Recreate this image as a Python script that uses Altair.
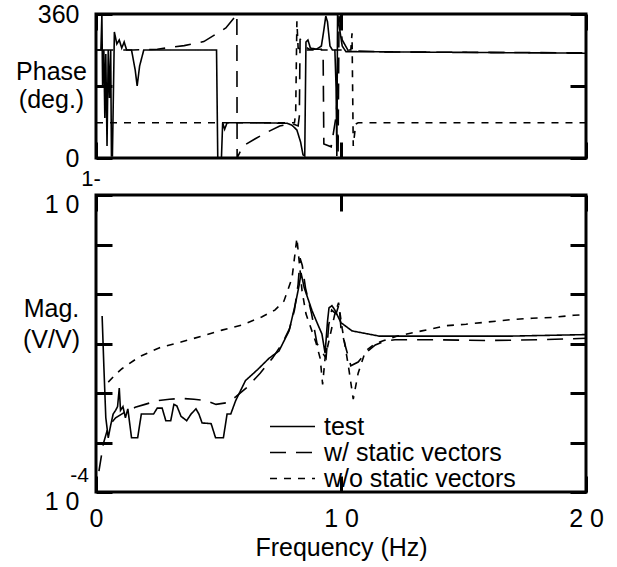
import altair as alt
import numpy as np
import pandas as pd

SERIES = ["test", "w/ static vectors", "w/o static vectors"]
DASH_PATTERNS = [[1, 0], [16, 10], [7, 7]]

# ---- phase (deg.) against frequency (Hz) ----
phase_test_f = [0.0, 0.2, 0.24, 0.27, 0.32, 0.36, 0.40, 0.45, 0.50, 0.55, 0.60, 0.63, 0.67, 0.75,
                0.85, 0.95, 1.05, 1.15, 1.25, 1.45, 1.60, 1.68, 1.78, 1.95, 4.92, 4.97, 5.12, 5.17,
                5.25, 5.35, 6.5, 7.8, 8.0, 8.2, 8.35, 8.45, 8.52, 8.57, 8.65, 8.75, 9.0, 9.2,
                9.3, 9.38, 9.45, 9.55, 9.65, 9.75, 9.8, 9.83, 9.86, 9.95, 10.05, 10.2, 15.0, 20.0]
phase_test = [270, 270, 358, 180, 270, 100, 260, 30, 270, 150, 270, 5, 5, 315,
              285, 295, 275, 290, 270, 270, 220, 180, 230, 270, 270, 0, 0, 88,
              72, 88, 88, 87, 82, 70, 40, 8, 5, 290, 295, 275, 272, 280,
              320, 355, 340, 280, 270, 270, 175, 5, 358, 320, 280, 266, 264, 262]

phase_ws_f = [0.05, 1.5, 2.5, 3.6, 4.4, 5.3, 5.7, 5.75, 5.76, 6.0, 6.5, 6.9, 7.5, 8.0, 8.25,
              8.3, 8.33, 8.45, 8.7, 9.2, 9.27, 9.3, 9.6, 9.8, 9.85, 9.88, 9.92, 10.05, 10.3,
              12.0, 20.0]
phase_ws = [270, 270, 272, 281, 291, 325, 355, 360, 0, 30, 48, 62, 80, 86, 80,
            105, 298, 282, 272, 272, 262, 35, 28, 105, 155, 5, 355, 295, 268,
            265, 263]

phase_wo_f = [0.0, 8.1, 8.15, 8.2, 8.25, 8.4, 10.4, 10.45, 10.5, 10.6, 10.7, 20.0]
phase_wo = [88, 88, 112, 342, 275, 270, 270, 312, 30, 85, 88, 88]

# ---- magnitude (V/V), kept as log10 values ----
mag_test_f = [0.25, 0.32, 0.4, 0.5, 0.6, 0.7, 0.8, 0.88, 0.95, 1.0, 1.1, 1.2, 1.3, 1.45, 1.7,
              1.85, 2.35, 2.5, 2.7, 2.85, 3.05, 3.18, 3.3, 3.47, 3.7, 3.88, 4.08, 4.2, 4.33,
              4.7, 4.88, 5.2, 5.35, 5.5, 5.7, 6.1, 6.6, 7.06, 7.47, 7.88, 8.15, 8.3, 8.37,
              8.5, 8.82, 9.1, 9.22, 9.35, 9.45, 9.51, 9.63, 9.75, 10.0, 10.45, 11.55, 14.0,
              17.0, 20.0]
mag_test_log = [-1.63, -2.3, -3.0, -3.27, -3.1, -2.95, -2.9, -2.85, -2.6, -2.9, -2.85, -3.0,
                -2.88, -3.27, -3.27, -2.95, -2.95, -2.87, -2.87, -3.04, -3.04, -2.82, -2.84,
                -2.98, -3.04, -2.95, -2.88, -2.95, -3.07, -3.08, -3.27, -3.27, -2.95, -2.95,
                -2.77, -2.5, -2.35, -2.2, -2.1, -1.83, -1.45, -1.2, -1.05, -1.25, -1.56,
                -1.78, -1.87, -2.13, -1.7, -1.52, -1.49, -1.55, -1.72, -1.83, -1.9, -1.9,
                -1.9, -1.88]

mag_ws_f = [0.12, 0.3, 0.5, 0.8, 1.2, 1.6, 2.0, 2.5, 3.0, 3.5, 4.0, 4.5, 4.9, 5.3, 5.7, 6.2,
            6.7, 7.2, 7.6, 7.9, 8.1, 8.25, 8.33, 8.42, 8.55, 8.8, 9.02, 9.2, 9.39, 9.5, 9.62,
            9.8, 9.92, 10.0, 10.2, 10.4, 10.7, 11.0, 11.4, 11.76, 12.2, 14.0, 16.0, 18.0, 20.0]
mag_ws_log = [-3.72, -3.35, -3.12, -3.0, -2.92, -2.86, -2.82, -2.77, -2.75, -2.74, -2.75,
              -2.77, -2.82, -2.8, -2.72, -2.58, -2.4, -2.2, -2.0, -1.8, -1.55, -1.2, -0.85,
              -0.95, -1.25, -1.6, -2.0, -2.1, -2.2, -1.75, -1.55, -1.6, -1.47, -1.8, -2.06,
              -2.3, -2.25, -2.13, -2.02, -1.97, -1.95, -1.95, -1.96, -1.95, -1.93]

mag_wo_f = [0.5, 0.82, 1.06, 1.76, 2.57, 3.47, 4.33, 5.14, 5.96, 6.78, 7.3, 7.67, 8.0, 8.2,
            8.41, 8.57, 8.98, 9.15, 9.25, 9.35, 9.55, 9.75, 9.9, 10.05, 10.3, 10.5, 10.7,
            11.0, 11.4, 11.75, 12.3, 13.3, 14.3, 15.1, 16.0, 16.9, 17.8, 18.6, 19.5, 20.0]
mag_wo_log = [-2.52, -2.41, -2.34, -2.18, -2.06, -1.98, -1.9, -1.82, -1.75, -1.64, -1.55,
              -1.43, -1.12, -0.58, -1.29, -1.6, -1.99, -2.2, -2.55, -2.2, -1.9, -1.6, -1.45,
              -1.8, -2.3, -2.75, -2.4, -2.1, -2.0, -1.96, -1.9, -1.83, -1.76, -1.74, -1.71,
              -1.68, -1.66, -1.65, -1.62, -1.61]

FREQ_TICKS = [0, 10, 20]
PHASE_TICKS = [0, 180, 360]
MAG_TICKS = [1e-4, 4.64e-4, 2.15e-3, 1e-2, 4.64e-2, 0.215, 1]


def series_frame(freq, value, name):
    return pd.DataFrame({"freq": freq, "value": value, "series": name,
                         "seq": np.arange(len(freq))})


phase_df = pd.concat([
    series_frame(phase_test_f, phase_test, SERIES[0]),
    series_frame(phase_ws_f, phase_ws, SERIES[1]),
    series_frame(phase_wo_f, phase_wo, SERIES[2]),
], ignore_index=True)

mag_df = pd.concat([
    series_frame(mag_test_f, 10.0 ** np.array(mag_test_log), SERIES[0]),
    series_frame(mag_ws_f, 10.0 ** np.array(mag_ws_log), SERIES[1]),
    series_frame(mag_wo_f, 10.0 ** np.array(mag_wo_log), SERIES[2]),
], ignore_index=True)

FONT = "Liberation Sans"
FS = 25
TICK = 16
W = 490

x_scale = alt.Scale(domain=[0, 20], nice=False, zero=False)
phase_scale = alt.Scale(domain=[0, 360], nice=False, zero=False)
mag_scale = alt.Scale(type="log", domain=[1e-4, 1], nice=False)
dash_scale = alt.Scale(domain=SERIES, range=DASH_PATTERNS)


def inner_ticks(orient, values, **extra):
    """Ticks pointing into the frame; the frame itself is the view stroke."""
    opts = dict(orient=orient, values=values, offset=-TICK, tickSize=TICK, tickWidth=3,
                tickColor="black", domain=False, grid=False, labels=False, title=None)
    opts.update(extra)
    return alt.Axis(**opts)


def tick_layer(data, y_scale, y_values):
    return alt.Chart(data).mark_point(opacity=0).encode(
        x=alt.X("freq:Q", scale=x_scale, axis=inner_ticks("top", FREQ_TICKS)),
        y=alt.Y("value:Q", scale=y_scale, axis=inner_ticks("right", y_values)),
    )


# ---- phase panel ----
phase_lines = alt.Chart(phase_df).mark_line(color="black", strokeWidth=1.6, clip=True).encode(
    x=alt.X("freq:Q", scale=x_scale, axis=inner_ticks("bottom", FREQ_TICKS)),
    y=alt.Y("value:Q", scale=phase_scale, axis=inner_ticks(
        "left", PHASE_TICKS, labels=True, labelPadding=17,
        labelExpr="datum.value == 180 ? '' : datum.label",
        title=["Phase", "(deg.)"], titleAngle=0, titleAlign="center",
        titleBaseline="middle", titleX=-61, titleY=57, titleLineHeight=28)),
    strokeDash=alt.StrokeDash("series:N", scale=dash_scale, legend=None),
    order="seq:Q",
)

top = alt.layer(phase_lines, tick_layer(phase_df, phase_scale, PHASE_TICKS)).resolve_axis(
    x="independent", y="independent").properties(width=W, height=144)

# ---- magnitude panel ----
mag_lines = alt.Chart(mag_df).mark_line(color="black", strokeWidth=1.6, clip=True).encode(
    x=alt.X("freq:Q", scale=x_scale, axis=inner_ticks(
        "bottom", FREQ_TICKS, labels=True, labelPadding=14,
        labelExpr="datum.value == 0 ? '0' : datum.value == 10 ? '1 0' : '2 0'",
        title="Frequency (Hz)", titlePadding=4)),
    y=alt.Y("value:Q", scale=mag_scale, axis=inner_ticks(
        "left", MAG_TICKS, labels=True, labelPadding=17, labelBaseline="middle",
        labelOffset=9,
        labelExpr="datum.value == 1 || datum.value == 0.0001 ? '1 0' : ''",
        title=["Mag.", "(V/V)"], titleAngle=0, titleAlign="center",
        titleBaseline="middle", titleX=-61, titleY=113, titleLineHeight=31)),
    strokeDash=alt.StrokeDash("series:N", scale=dash_scale, legend=alt.Legend(
        orient="none", legendX=173, legendY=219, title=None, symbolType="stroke",
        symbolSize=2025, symbolStrokeWidth=1.6, symbolStrokeColor="black",
        labelFont=FONT, labelFontSize=FS, labelColor="black", labelOffset=8,
        labelLimit=400, clipHeight=25, rowPadding=0, padding=0)),
    order="seq:Q",
)

exp_low = alt.Chart(pd.DataFrame({"freq": [0], "value": [1e-4], "txt": ["-4"]})).mark_text(
    font=FONT, fontSize=21, align="right", baseline="middle", dx=-7, dy=-16, color="black"
).encode(x=alt.X("freq:Q", scale=x_scale, axis=None),
         y=alt.Y("value:Q", scale=mag_scale, axis=None), text="txt:N")

exp_top = alt.Chart(pd.DataFrame({"freq": [0], "value": [1.0], "txt": ["1-"]})).mark_text(
    font=FONT, fontSize=22, align="center", baseline="middle", dx=-5, dy=-16, color="black"
).encode(x=alt.X("freq:Q", scale=x_scale, axis=None),
         y=alt.Y("value:Q", scale=mag_scale, axis=None), text="txt:N")

bottom = alt.layer(mag_lines, tick_layer(mag_df, mag_scale, MAG_TICKS), exp_low, exp_top
                   ).resolve_axis(x="independent", y="independent").properties(width=W, height=297)

chart = alt.vconcat(top, bottom, spacing=37, bounds="flush").resolve_legend(
    strokeDash="independent"
).properties(
    padding={"left": 14, "top": 0, "right": 5, "bottom": 5},
    background="white",
).configure_view(
    stroke="black", strokeWidth=3
).configure_axis(
    labelFont=FONT, labelFontSize=FS, labelColor="black", labelOverlap=False,
    labelFlush=False, titleFont=FONT, titleFontSize=FS, titleColor="black",
    titleFontWeight="normal",
)

chart.save("out.html", embed_options={"renderer": "svg", "actions": False})
